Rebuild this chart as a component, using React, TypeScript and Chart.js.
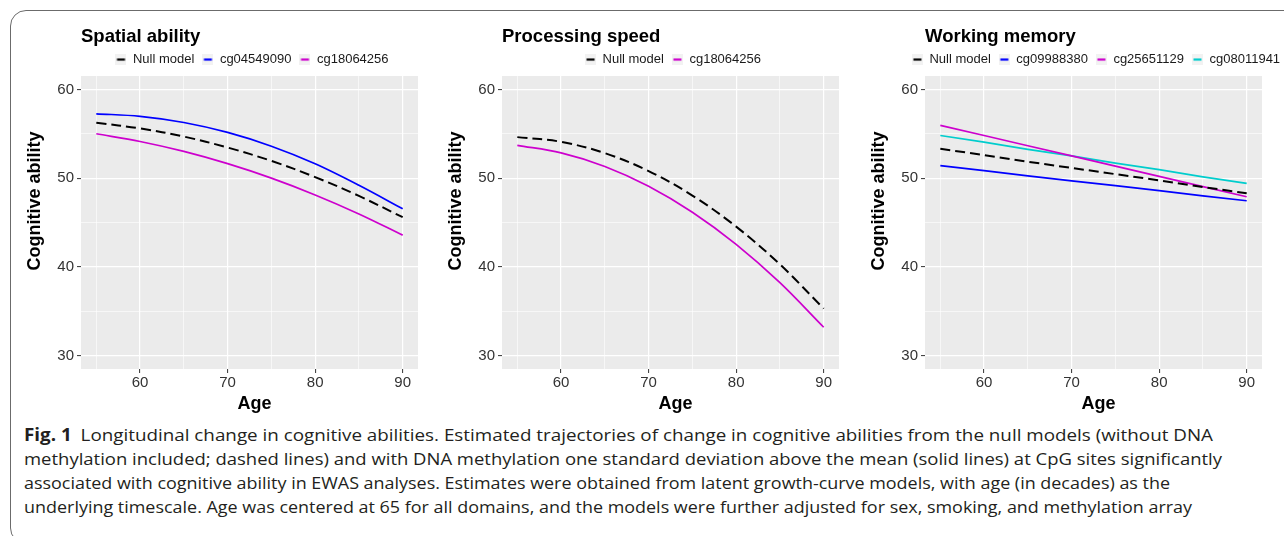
import React, { useEffect, useRef } from 'react';
import { Chart, registerables } from 'chart.js';

Chart.register(...registerables);

// ---------- data ----------
const ages = [55, 60, 65, 70, 75, 80, 85, 90];
const xTicks = [55, 60, 65, 70, 75, 80, 85, 90];
const yTicks = [30, 35, 40, 45, 50, 55, 60];
const X_MIN = 53.25;
const X_MAX = 91.75;
const Y_MIN = 28.5;
const Y_MAX = 61.5;

const panelTitles = ['Spatial ability', 'Processing speed', 'Working memory'];
const xAxisTitle = 'Age';
const yAxisTitle = 'Cognitive ability';

const spatialNull = [56.24, 55.6, 54.68, 53.45, 51.94, 50.12, 48.0, 45.6];
const spatialCg04549090 = [57.25, 56.96, 56.27, 55.15, 53.6, 51.62, 49.2, 46.55];
const spatialCg18064256 = [55.0, 54.13, 53.01, 51.63, 50.0, 48.11, 45.97, 43.58];

const speedNull = [54.62, 54.09, 52.82, 50.8, 48.04, 44.54, 40.29, 35.3];
const speedCg18064256 = [53.69, 52.85, 51.32, 49.09, 46.16, 42.54, 38.22, 33.2];

const memoryNull = [53.3, 52.6, 51.85, 51.15, 50.45, 49.75, 49.0, 48.3];
const memoryCg09988380 = [51.4, 50.85, 50.25, 49.7, 49.15, 48.6, 48.0, 47.45];
const memoryCg25651129 = [55.95, 54.8, 53.65, 52.5, 51.35, 50.2, 49.05, 47.9];
const memoryCg08011941 = [54.8, 54.05, 53.25, 52.5, 51.7, 50.95, 50.15, 49.4];

const captionBold = 'Fig. 1';
const captionLines = [
  'Longitudinal change in cognitive abilities. Estimated trajectories of change in cognitive abilities from the null models (without DNA',
  'methylation included; dashed lines) and with DNA methylation one standard deviation above the mean (solid lines) at CpG sites significantly',
  'associated with cognitive ability in EWAS analyses. Estimates were obtained from latent growth-curve models, with age (in decades) as the',
  'underlying timescale. Age was centered at 65 for all domains, and the models were further adjusted for sex, smoking, and methylation array',
];

// ---------- styling ----------
const FONT = "'Liberation Sans', Arial, Helvetica, sans-serif";
const BLACK = '#000000';
const BLUE = '#0000FF';
const MAGENTA = '#CD00CD';
const CYAN = '#00CDCD';

type Series = { label: string; values: number[]; color: string; dashed: boolean };
type PanelCfg = { title: string; left: number; smooth: boolean; series: Series[] };

const panels: PanelCfg[] = [
  {
    title: panelTitles[0],
    left: 10,
    smooth: true,
    series: [
      { label: 'Null model', values: spatialNull, color: BLACK, dashed: true },
      { label: 'cg04549090', values: spatialCg04549090, color: BLUE, dashed: false },
      { label: 'cg18064256', values: spatialCg18064256, color: MAGENTA, dashed: false },
    ],
  },
  {
    title: panelTitles[1],
    left: 431,
    smooth: true,
    series: [
      { label: 'Null model', values: speedNull, color: BLACK, dashed: true },
      { label: 'cg18064256', values: speedCg18064256, color: MAGENTA, dashed: false },
    ],
  },
  {
    title: panelTitles[2],
    left: 854,
    smooth: false,
    series: [
      { label: 'Null model', values: memoryNull, color: BLACK, dashed: true },
      { label: 'cg09988380', values: memoryCg09988380, color: BLUE, dashed: false },
      { label: 'cg25651129', values: memoryCg25651129, color: MAGENTA, dashed: false },
      { label: 'cg08011941', values: memoryCg08011941, color: CYAN, dashed: false },
    ],
  },
];

const CANVAS_W = 484;
const CANVAS_H = 420;

function makeKey(color: string): HTMLCanvasElement {
  const c = document.createElement('canvas');
  c.width = 11;
  c.height = 11;
  const g = c.getContext('2d')!;
  g.fillStyle = '#F2F2F2';
  g.fillRect(0, 0, 11, 11);
  g.strokeStyle = color;
  g.lineWidth = 2.2;
  g.beginPath();
  g.moveTo(1.5, 5.5);
  g.lineTo(9.5, 5.5);
  g.stroke();
  return c;
}

const panelBg = {
  id: 'panelBg',
  beforeDraw(chart: any) {
    const { ctx, chartArea: a } = chart;
    ctx.save();
    ctx.fillStyle = '#EBEBEB';
    ctx.fillRect(a.left, a.top, a.right - a.left, a.bottom - a.top);
    ctx.restore();
  },
};

const axisTitles = {
  id: 'axisTitles',
  afterDraw(chart: any, _args: any, opts: any) {
    const { ctx, chartArea: a } = chart;
    ctx.save();
    ctx.fillStyle = '#000';
    ctx.font = `bold 18px ${FONT}`;
    ctx.textAlign = 'center';
    ctx.textBaseline = 'middle';
    ctx.fillText(opts.x, (a.left + a.right) / 2 + 5, a.bottom + 35.5);
    ctx.translate(a.left - 46, a.top + 125);
    ctx.rotate(-Math.PI / 2);
    ctx.fillText(opts.y, 0, 0);
    ctx.restore();
  },
};

const isMajor = (ctx: any) => ctx.tick && Math.round(ctx.tick.value) % 10 === 0;

function Panel({ cfg }: { cfg: PanelCfg }) {
  const ref = useRef<HTMLCanvasElement>(null);
  useEffect(() => {
    const datasets = cfg.series.map((s) => ({
      label: s.label,
      data: ages.map((a, i) => ({ x: a, y: s.values[i] })),
      borderColor: s.color,
      backgroundColor: s.color,
      borderWidth: s.dashed ? 2 : 1.7,
      borderDash: s.dashed ? [10, 5] : [],
      pointRadius: 0,
      pointHoverRadius: 0,
      pointStyle: makeKey(s.color),
      fill: false,
      cubicInterpolationMode: 'default',
      tension: cfg.smooth ? 0.35 : 0,
    }));
    const chart = new Chart(ref.current!, {
      type: 'line',
      data: { datasets } as any,
      plugins: [panelBg, axisTitles],
      options: {
        responsive: false,
        animation: false,
        events: [],
        layout: { padding: 0 },
        plugins: {
          tooltip: { enabled: false },
          title: {
            display: true,
            text: cfg.title,
            align: 'start',
            fullSize: false,
            color: '#000',
            font: { family: FONT, size: 18.5, weight: 'bold', lineHeight: 0.9 },
            padding: { top: 28.4, bottom: 0 },
          },
          legend: {
            display: true,
            position: 'top',
            align: 'center',
            fullSize: true,
            labels: {
              usePointStyle: true,
              pointStyleWidth: 11,
              boxHeight: 11,
              padding: 8,
              color: '#1a1a1a',
              font: { family: FONT, size: 13 },
            },
          },
          axisTitles: { x: xAxisTitle, y: yAxisTitle },
        } as any,
        scales: {
          x: {
            type: 'linear',
            position: 'bottom',
            min: X_MIN,
            max: X_MAX,
            afterBuildTicks: (s: any) => {
              s.ticks = xTicks.map((v) => ({ value: v }));
            },
            afterFit: (s: any) => {
              s.height = 51;
            },
            ticks: {
              autoSkip: false,
              maxRotation: 0,
              padding: 1,
              color: '#333',
              font: { family: FONT, size: 15 },
              callback: (v: any) => (Math.round(v) % 10 === 0 ? String(v) : ''),
            },
            grid: {
              color: '#FFFFFF',
              lineWidth: (c: any) => (isMajor(c) ? 1.2 : 0.6),
              tickLength: 4,
              tickWidth: 1,
              tickColor: (c: any) => (isMajor(c) ? '#333' : 'rgba(0,0,0,0)'),
            },
            border: { display: false },
            title: { display: false },
          },
          y: {
            type: 'linear',
            position: 'left',
            min: Y_MIN,
            max: Y_MAX,
            afterBuildTicks: (s: any) => {
              s.ticks = yTicks.map((v) => ({ value: v }));
            },
            afterFit: (s: any) => {
              s.width = 71;
            },
            ticks: {
              padding: 3,
              color: '#333',
              font: { family: FONT, size: 15 },
              callback: (v: any) => (Math.round(v) % 10 === 0 ? String(v) : ''),
            },
            grid: {
              color: '#FFFFFF',
              lineWidth: (c: any) => (isMajor(c) ? 1.2 : 0.6),
              tickLength: 4,
              tickWidth: 1,
              tickColor: (c: any) => (isMajor(c) ? '#333' : 'rgba(0,0,0,0)'),
            },
            border: { display: false },
            title: { display: false },
          },
          yRight: {
            type: 'linear',
            position: 'right',
            display: true,
            ticks: { display: false },
            grid: { display: false, drawTicks: false },
            border: { display: false },
            afterFit: (s: any) => {
              s.width = 76;
            },
          },
        } as any,
      },
    });
    return () => chart.destroy();
  }, [cfg]);
  return (
    <canvas
      ref={ref}
      width={CANVAS_W}
      height={CANVAS_H}
      style={{ position: 'absolute', left: cfg.left, top: 0, width: CANVAS_W, height: CANVAS_H, display: 'block' }}
    />
  );
}

const CAPTION_LEFT = 24;
const CAPTION_TOP = 423;
const CAPTION_ENDS = [1213, 1222, 1170, 1192];

function Caption() {
  const refs = useRef<(HTMLSpanElement | null)[]>([]);
  useEffect(() => {
    const apply = () => {
      refs.current.forEach((el, i) => {
        if (!el) return;
        el.style.transform = 'none';
        const w = el.getBoundingClientRect().width;
        if (w > 0) el.style.transform = `scaleX(${(CAPTION_ENDS[i] - CAPTION_LEFT) / w})`;
      });
    };
    apply();
    const fonts: any = (document as any).fonts;
    if (fonts && fonts.ready) fonts.ready.then(apply);
  }, []);
  return (
    <>
      {captionLines.map((line, i) => (
        <span
          key={i}
          ref={(el) => {
            refs.current[i] = el;
          }}
          style={{
            position: 'absolute',
            left: CAPTION_LEFT,
            top: CAPTION_TOP + i * 24,
            display: 'inline-block',
            whiteSpace: 'nowrap',
            lineHeight: '24px',
            fontFamily: "'Open Sans', 'Noto Sans', sans-serif",
            fontSize: 17,
            color: '#231F20',
            transformOrigin: 'left center',
          }}
        >
          {i === 0 && <b style={{ marginRight: 8 }}>{captionBold}</b>}
          {line}
        </span>
      ))}
    </>
  );
}

export default function App() {
  useEffect(() => {
    document.body.style.margin = '0';
  }, []);
  return (
    <div
      style={{
        position: 'fixed',
        left: 0,
        top: 0,
        width: 1284,
        height: 536,
        overflow: 'hidden',
        background: '#FFFFFF',
      }}
    >
      <div
        style={{
          position: 'absolute',
          left: 10,
          top: 10,
          width: 1400,
          height: 534,
          border: '1.5px solid #6b6b6b',
          borderRadius: 16,
          boxSizing: 'border-box',
        }}
      />
      {panels.map((p, i) => (
        <Panel key={i} cfg={p} />
      ))}
      <Caption />
    </div>
  );
}
